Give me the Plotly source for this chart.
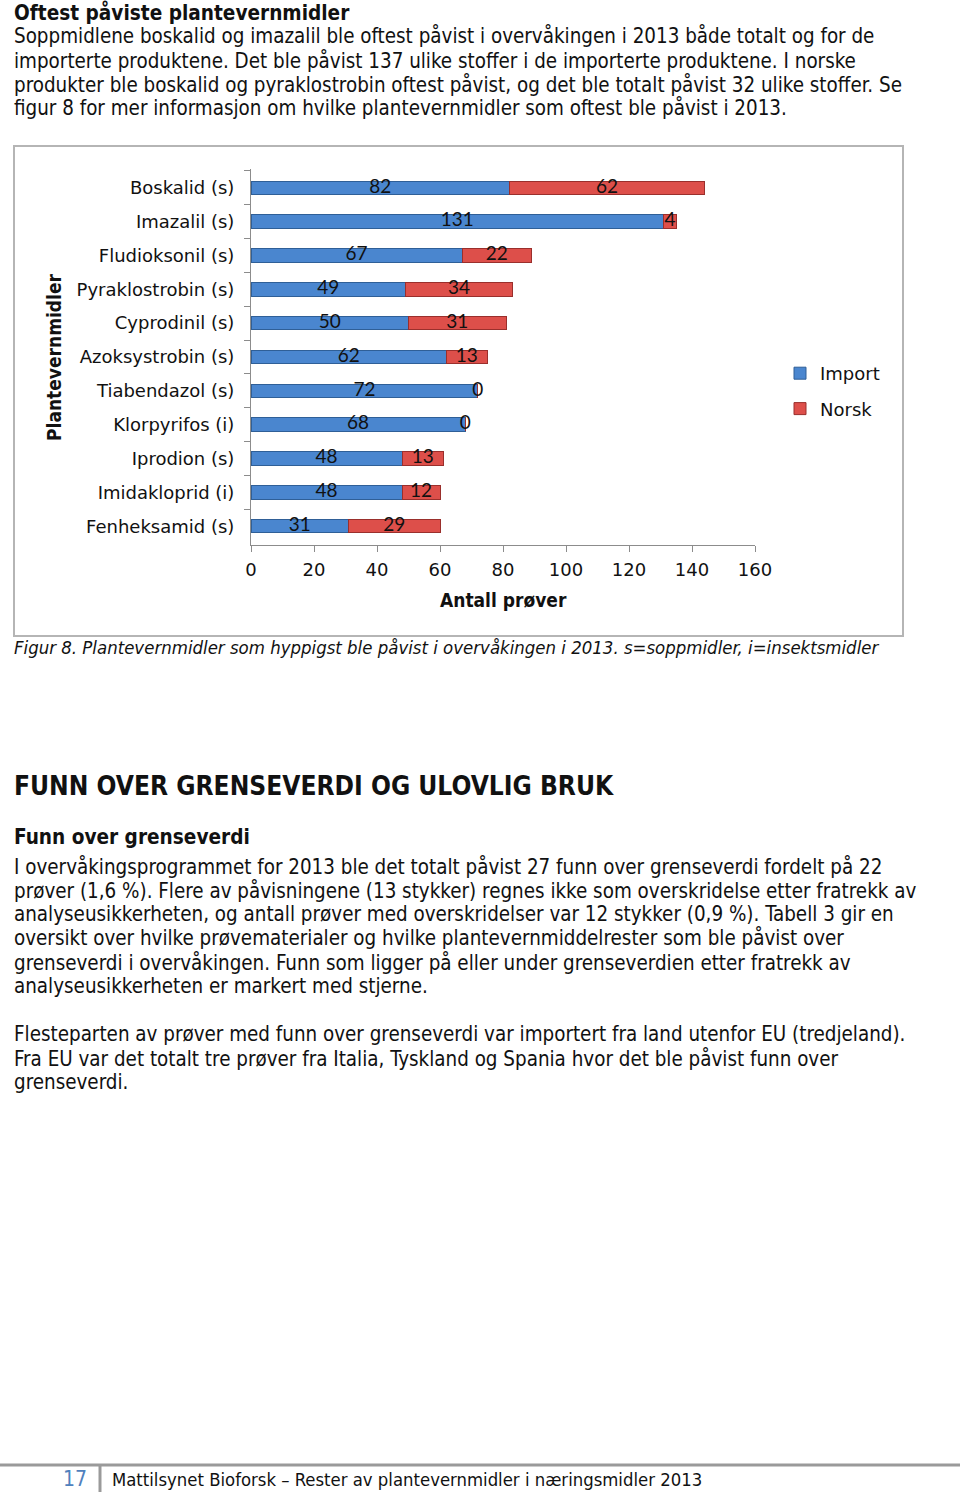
import plotly.graph_objects as go

W, H = 960, 1496
def fx(px): return px / W
def fy(py): return 1 - py / H

# ---------------- data ----------------
categories = ["Boskalid (s)", "Imazalil (s)", "Fludioksonil (s)", "Pyraklostrobin (s)",
              "Cyprodinil (s)", "Azoksystrobin (s)", "Tiabendazol (s)", "Klorpyrifos (i)",
              "Iprodion (s)", "Imidakloprid (i)", "Fenheksamid (s)"]
import_vals = [82, 131, 67, 49, 50, 62, 72, 68, 48, 48, 31]
norsk_vals = [62, 4, 22, 34, 31, 13, 0, 0, 13, 12, 29]
x_ticks = [0, 20, 40, 60, 80, 100, 120, 140, 160]

BODY_FONT = "DejaVu Sans Condensed"
CHART_FONT = "DejaVu Sans"
BLUE = "#4a86cf"
RED = "#dd4f4a"

fig = go.Figure()
fig.add_trace(go.Bar(y=categories, x=import_vals, orientation="h", name="Import",
                     marker=dict(color=BLUE, line=dict(color="#2f5f97", width=1)),
                     legendgroup="a"))
fig.add_trace(go.Bar(y=categories, x=norsk_vals, orientation="h", name="Norsk",
                     marker=dict(color=RED, line=dict(color="#9a2f2c", width=1)),
                     legendgroup="b"))
# value labels centred on each segment
lab_x = [v / 2 for v in import_vals] + [a + b / 2 for a, b in zip(import_vals, norsk_vals)]
lab_y = categories + categories
lab_t = [str(v) for v in import_vals] + [str(v) for v in norsk_vals]
fig.add_trace(go.Scatter(x=lab_x, y=lab_y, mode="text", text=lab_t, showlegend=False,
                         textfont=dict(family="Lato", size=19, color="#111"),
                         hoverinfo="skip"))

fig.update_layout(
    width=W, height=H, autosize=False,
    margin=dict(l=0, r=0, t=0, b=0, autoexpand=False),
    paper_bgcolor="white", plot_bgcolor="white",
    barmode="stack", bargap=0.6,
    showlegend=True,
    legend=dict(x=fx(780), y=fy(355), xanchor="left", yanchor="top",
                font=dict(family=CHART_FONT, size=18, color="#111"),
                tracegroupgap=9, bgcolor="rgba(0,0,0,0)"),
    xaxis=dict(domain=[fx(251), fx(755)], range=[0, 160], tickvals=x_ticks,
               showgrid=False, zeroline=False, showline=True, linecolor="#8c8c8c",
               linewidth=1, ticks="outside", ticklen=6, tickcolor="#8c8c8c",
               tickfont=dict(family=CHART_FONT, size=18, color="#111"),
               ticklabelstandoff=2, anchor="y", automargin=False),
    yaxis=dict(domain=[fy(545), fy(169)], categoryorder="array",
               categoryarray=categories, autorange="reversed",
               showgrid=False, zeroline=False, showline=True, linecolor="#8c8c8c",
               linewidth=1, ticks="outside", ticklen=6, tickcolor="#8c8c8c",
               tickson="boundaries",
               tickfont=dict(family=CHART_FONT, size=18, color="#111"),
               ticklabelstandoff=12, anchor="x", automargin=False),
)

ann = []
def txt(x, y, s, size, bold=False, italic=False, color="#111", family=BODY_FONT, **kw):
    if bold: s = "<b>" + s + "</b>"
    if italic: s = "<i>" + s + "</i>"
    d = dict(xref="paper", yref="paper", x=fx(x), y=fy(y), text=s, showarrow=False,
             xanchor="left", yanchor="middle", font=dict(family=family, size=size, color=color))
    d.update(kw)
    ann.append(d)

txt(12, 12, "Oftest påviste plantevernmidler", 20.6, bold=True)
para1 = ["Soppmidlene boskalid og imazalil ble oftest påvist i overvåkingen i 2013 både totalt og for de",
         "importerte produktene. Det ble påvist 137 ulike stoffer i de importerte produktene. I norske",
         "produkter ble boskalid og pyraklostrobin oftest påvist, og det ble totalt påvist 32 ulike stoffer. Se",
         "figur 8 for mer informasjon om hvilke plantevernmidler som oftest ble påvist i 2013."]
for i, l in enumerate(para1):
    txt(12, 36 + 24 * i, l, 20.4)

# axis titles
txt(503, 600, "Antall prøver", 19, bold=True, family=BODY_FONT, xanchor="center")
txt(54, 357, "Plantevernmidler", 19, bold=True, family=BODY_FONT, xanchor="center", textangle=-90)

txt(12, 648, "Figur 8. Plantevernmidler som hyppigst ble påvist i overvåkingen i 2013. s=soppmidler, i=insektsmidler",
    18.45, italic=True)

txt(12, 786, "FUNN OVER GRENSEVERDI OG ULOVLIG BRUK", 26.1, bold=True)
txt(12, 837, "Funn over grenseverdi", 20.6, bold=True)
para2 = ["I overvåkingsprogrammet for 2013 ble det totalt påvist 27 funn over grenseverdi fordelt på 22",
         "prøver (1,6 %). Flere av påvisningene (13 stykker) regnes ikke som overskridelse etter fratrekk av",
         "analyseusikkerheten, og antall prøver med overskridelser var 12 stykker (0,9 %). Tabell 3 gir en",
         "oversikt over hvilke prøvematerialer og hvilke plantevernmiddelrester som ble påvist over",
         "grenseverdi i overvåkingen. Funn som ligger på eller under grenseverdien etter fratrekk av",
         "analyseusikkerheten er markert med stjerne."]
for i, l in enumerate(para2):
    txt(12, 866 + 24 * i, l, 20.4)
para3 = ["Flesteparten av prøver med funn over grenseverdi var importert fra land utenfor EU (tredjeland).",
         "Fra EU var det totalt tre prøver fra Italia, Tyskland og Spania hvor det ble påvist funn over",
         "grenseverdi."]
for i, l in enumerate(para3):
    txt(12, 1034 + 24 * i, l, 20.4)

# footer
txt(89, 1479, "17", 21, color="#4f81bd", xanchor="right")
txt(110, 1479, "Mattilsynet Bioforsk – Rester av plantevernmidler i næringsmidler 2013", 18.35)

fig.update_layout(annotations=ann)

shapes = [
    dict(type="rect", xref="paper", yref="paper", x0=fx(14), x1=fx(903), y0=fy(636), y1=fy(146),
         line=dict(color="#b5b5b5", width=2), layer="below"),
    dict(type="line", xref="paper", yref="paper", x0=0, x1=1, y0=fy(1465), y1=fy(1465),
         line=dict(color="#9a9a9a", width=3)),
    dict(type="line", xref="paper", yref="paper", x0=fx(100), x1=fx(100), y0=fy(1466), y1=fy(1492),
         line=dict(color="#9a9a9a", width=3)),
]
fig.update_layout(shapes=shapes)

fig.write_html("out.html",
               post_script="document.body.style.margin='0';document.body.style.overflow='hidden';")
